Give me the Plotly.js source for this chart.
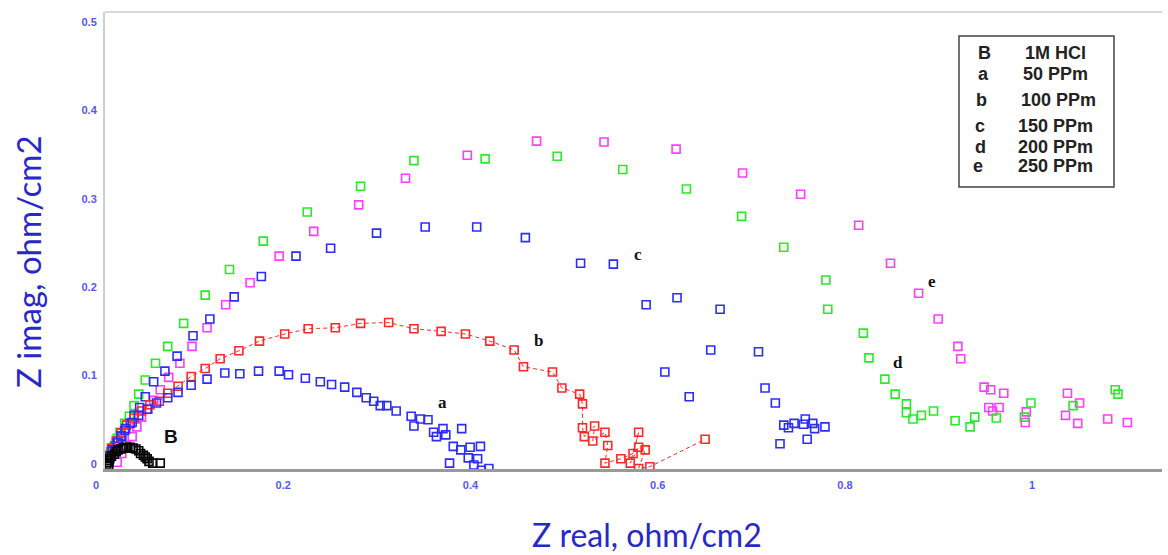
<!DOCTYPE html>
<html>
<head>
<meta charset="utf-8">
<script src="https://cdn.plot.ly/plotly-3.0.1.min.js"></script>
<style>html,body{margin:0;padding:0;background:#fff;}#chart{width:1168px;height:555px;}</style>
</head>
<body>
<div id="chart"></div>
<script>
// ---- data (Z real, Z imag in ohm/cm2) ----
const blankX = [0.001,0.002,0.003,0.003,0.004,0.006,0.009,0.011,0.013,0.016,0.019,0.022,0.026,0.029,0.032,0.035,0.037,0.040,0.042,0.044,0.046,0.050,0.058];
const blankY = [0.000,0.004,-0.002,0.002,0.006,0.009,0.011,0.014,0.016,0.017,0.018,0.019,0.019,0.018,0.017,0.015,0.012,0.010,0.008,0.006,0.003,0.001,0.001];

const aX = [0.004,0.007,0.012,0.016,0.021,0.028,0.035,0.044,0.054,0.066,0.077,0.091,0.108,0.127,0.143,0.163,0.185,0.195,0.213,0.229,0.241,0.255,0.268,0.278,0.286,0.293,0.300,0.310,0.326,0.336,0.344,0.329,0.350,0.353,0.360,0.363,0.380,0.371,0.379,0.389,0.400,0.387,0.397,0.393,0.367,0.409,0.401];
const aY = [0.009,0.016,0.024,0.032,0.040,0.047,0.055,0.062,0.069,0.075,0.081,0.089,0.096,0.103,0.102,0.105,0.105,0.101,0.097,0.093,0.090,0.087,0.081,0.075,0.071,0.066,0.066,0.060,0.054,0.051,0.050,0.043,0.036,0.031,0.040,0.033,0.040,0.020,0.016,0.019,0.020,0.007,0.006,-0.001,0.001,-0.005,-0.007];

const bX = [0.003,0.006,0.011,0.016,0.022,0.030,0.038,0.047,0.057,0.066,0.077,0.091,0.106,0.122,0.142,0.164,0.191,0.216,0.245,0.272,0.302,0.329,0.358,0.384,0.410,0.436,0.446,0.477,0.487,0.506,0.509,0.509,0.511,0.522,0.520,0.533,0.536,0.533,0.550,0.563,0.569,0.560,0.569,0.576,0.569,0.581,0.640];
const bY = [0.010,0.018,0.026,0.035,0.044,0.052,0.060,0.067,0.071,0.080,0.088,0.099,0.108,0.119,0.128,0.139,0.147,0.153,0.154,0.159,0.160,0.153,0.150,0.147,0.139,0.129,0.110,0.104,0.086,0.079,0.068,0.041,0.031,0.043,0.026,0.036,0.021,0.001,0.006,0.012,0.036,0.001,0.019,0.016,-0.005,-0.003,0.028];

const cX = [0.004,0.006,0.010,0.013,0.017,0.020,0.026,0.030,0.036,0.042,0.051,0.063,0.076,0.093,0.111,0.137,0.166,0.203,0.240,0.289,0.341,0.396,0.448,0.507,0.542,0.577,0.610,0.656,0.597,0.646,0.697,0.623,0.704,0.715,0.724,0.729,0.735,0.745,0.747,0.755,0.757,0.768,0.749,0.720];
const cY = [0.007,0.014,0.020,0.026,0.031,0.038,0.046,0.055,0.064,0.076,0.093,0.105,0.122,0.145,0.164,0.189,0.212,0.235,0.244,0.261,0.268,0.268,0.256,0.227,0.226,0.180,0.188,0.175,0.104,0.129,0.127,0.076,0.086,0.069,0.044,0.041,0.046,0.045,0.051,0.046,0.040,0.042,0.028,0.023];

const dX = [0.005,0.009,0.012,0.015,0.020,0.025,0.030,0.035,0.042,0.053,0.066,0.083,0.106,0.132,0.168,0.215,0.272,0.329,0.405,0.482,0.552,0.620,0.679,0.724,0.769,0.771,0.809,0.815,0.832,0.843,0.855,0.855,0.862,0.871,0.884,0.907,0.923,0.928,0.951,0.981,0.988,1.033,1.078,1.081];
const dY = [0.014,0.021,0.029,0.036,0.046,0.054,0.066,0.079,0.095,0.114,0.133,0.159,0.191,0.220,0.252,0.285,0.314,0.343,0.345,0.348,0.333,0.311,0.280,0.245,0.208,0.175,0.148,0.120,0.096,0.079,0.068,0.058,0.051,0.055,0.060,0.049,0.042,0.053,0.052,0.053,0.069,0.066,0.084,0.079];

const eX = [0.012,0.017,0.022,0.028,0.033,0.038,0.045,0.051,0.058,0.067,0.079,0.092,0.108,0.128,0.154,0.185,0.222,0.270,0.320,0.386,0.460,0.532,0.609,0.680,0.742,0.804,0.838,0.868,0.889,0.910,0.913,0.938,0.945,0.959,0.943,0.954,0.947,0.983,0.982,1.027,1.040,1.025,1.038,1.070,1.091];
const eY = [0.002,0.012,0.021,0.031,0.042,0.053,0.062,0.072,0.084,0.098,0.114,0.133,0.154,0.180,0.205,0.235,0.263,0.293,0.323,0.349,0.365,0.364,0.356,0.329,0.305,0.270,0.227,0.193,0.164,0.133,0.119,0.087,0.084,0.080,0.064,0.064,0.060,0.059,0.047,0.080,0.069,0.055,0.046,0.051,0.047];

const xTicks = [0, 0.2, 0.4, 0.6, 0.8, 1];
const yTicks = [0, 0.1, 0.2, 0.3, 0.4, 0.5];

const curveLabels = ['B', 'a', 'b', 'c', 'd', 'e'];
const curveLabelX = [0.070, 0.360, 0.462, 0.568, 0.846, 0.882];
const curveLabelY = [0.031, 0.070, 0.140, 0.237, 0.115, 0.206];

const legendKeys = ['B', 'a', 'b', 'c', 'd', 'e'];
const legendTexts = ['1M HCl', '50 PPm', '100 PPm', '150 PPm', '200 PPm', '250 PPm'];

const xTitle = 'Z real, ohm/cm2';
const yTitle = 'Z imag, ohm/cm2';

// ---- styling ----
const BLUE = 'rgb(45,45,250)', RED = 'rgb(255,40,40)', GREEN = 'rgb(40,235,40)', MAG = 'rgb(255,60,255)', BLACK = '#000';
function mk(color){ return {symbol:'square-open', size:8, color:color, line:{width:1.6, color:color}}; }

const traces = [
  {x:eX, y:eY, mode:'markers', marker:mk(MAG), name:'e'},
  {x:dX, y:dY, mode:'markers', marker:mk(GREEN), name:'d'},
  {x:cX, y:cY, mode:'markers', marker:mk(BLUE), name:'c'},
  {x:bX, y:bY, mode:'lines+markers', marker:mk(RED), line:{color:RED, width:1, dash:'4px,3px'}, name:'b'},
  {x:aX, y:aY, mode:'markers', marker:mk(BLUE), name:'a'},
  {x:blankX, y:blankY, mode:'markers', marker:mk(BLACK), name:'B'}
];

const L = 105, R = 6, T = 12, B = 86;
const W = 1168, H = 555;
const pw = W - L - R, ph = H - T - B;
function px2paperX(p){ return (p - L) / pw; }
function px2paperY(p){ return (H - B - p) / ph; }

const annotations = [];
curveLabels.forEach((t, i) => {
  annotations.push({x:curveLabelX[i], y:curveLabelY[i], xref:'x', yref:'y', text:t, showarrow:false,
    font:{family: t === 'B' ? 'Liberation Sans, Arial, sans-serif' : 'Liberation Serif, Times New Roman, serif', size: t === 'B' ? 19 : 17, color:'#111', weight:'bold'}});
});
const legRowY = [53, 74, 100, 126, 147, 166];
const legKeyX = [984, 983, 981, 980, 980, 978];
const legTxtX = [1055, 1055, 1058, 1055, 1055, 1055];
legendKeys.forEach((k, i) => {
  annotations.push({x:px2paperX(legKeyX[i]), y:px2paperY(legRowY[i]), xref:'paper', yref:'paper', text:'<b>'+k+'</b>', showarrow:false,
    xanchor:'center', yanchor:'middle', font:{family:'Liberation Sans, Arial, sans-serif', size:18, color:'#222'}});
  annotations.push({x:px2paperX(legTxtX[i]), y:px2paperY(legRowY[i]), xref:'paper', yref:'paper', text:'<b>'+legendTexts[i]+'</b>', showarrow:false,
    xanchor:'center', yanchor:'middle', font:{family:'Liberation Sans, Arial, sans-serif', size:18, color:'#222'}});
});
// axis titles placed where the reference draws them
annotations.push({x:px2paperX(647), y:px2paperY(534), xref:'paper', yref:'paper', text:xTitle, showarrow:false,
  xanchor:'center', yanchor:'middle', font:{family:'Lato, sans-serif', size:32, color:'rgb(40,40,200)'}});
annotations.push({x:px2paperX(28), y:px2paperY(262), xref:'paper', yref:'paper', text:yTitle, showarrow:false, textangle:-90,
  xanchor:'center', yanchor:'middle', font:{family:'Lato, sans-serif', size:33, color:'rgb(40,40,200)'}});

const shapes = [
  {type:'rect', xref:'paper', yref:'paper', x0:px2paperX(959), x1:px2paperX(1114), y0:px2paperY(187), y1:px2paperY(36),
   line:{color:'#444', width:1.5}, fillcolor:'rgba(0,0,0,0)'},
  {type:'line', xref:'paper', yref:'paper', x0:0, x1:1, y0:1, y1:1, line:{color:'#d8d8d8', width:2}}
];

const tickFont = {family:'Liberation Sans, Arial, sans-serif', size:11, color:'rgb(85,85,255)', weight:'bold'};

const layout = {
  width:W, height:H,
  margin:{l:L, r:R, t:T, b:B, pad:0},
  paper_bgcolor:'#fff', plot_bgcolor:'#fff',
  showlegend:false,
  xaxis:{
    range:[-0.001, 1.128], tickvals:xTicks, ticktext:xTicks.map(String),
    showgrid:false, zeroline:false, showline:true, linecolor:'#999', linewidth:2.5,
    ticks:'', tickfont:tickFont, ticklabelstandoff:4, ticklabelshift:-10
  },
  yaxis:{
    range:[-0.0056, 0.511], tickvals:yTicks, ticktext:yTicks.map(String),
    showgrid:false, zeroline:false, showline:true, linecolor:'#cfcfcf', linewidth:2,
    ticks:'', tickfont:tickFont, ticklabelstandoff:4
  },
  annotations:annotations,
  shapes:shapes
};

Plotly.newPlot('chart', traces, layout, {staticPlot:true, displayModeBar:false});
</script>
</body>
</html>
